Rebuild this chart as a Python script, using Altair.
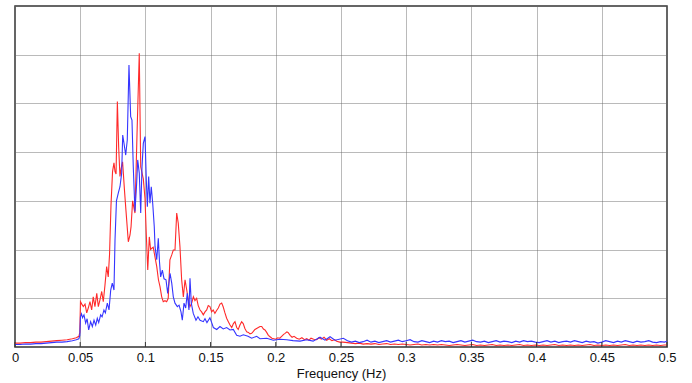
import altair as alt
import pandas as pd

# ---------------- data ----------------
x_ticks = [0, 0.05, 0.1, 0.15, 0.2, 0.25, 0.3, 0.35, 0.4, 0.45, 0.5]
y_ticks = [0, 1, 2, 3, 4, 5, 6, 7]

red_freq = [
    0.000, 0.004, 0.008, 0.012, 0.016, 0.020, 0.024, 0.028, 0.032, 0.036,
    0.040, 0.044, 0.047, 0.0490, 0.0497, 0.0502, 0.0512, 0.0524, 0.0537, 0.0550,
    0.0562, 0.0575, 0.0588, 0.0600, 0.0613, 0.0627, 0.0639, 0.0652, 0.0665, 0.0677,
    0.0690, 0.0703, 0.0715, 0.0725, 0.0736, 0.0748, 0.0759, 0.0767, 0.0775, 0.0785,
    0.0795, 0.0805, 0.0813, 0.0825, 0.0840, 0.0851, 0.0869, 0.0882, 0.0890, 0.0902,
    0.0920, 0.0936, 0.0953, 0.0964, 0.0972, 0.0984, 0.0997, 0.1007, 0.1018, 0.1030,
    0.1040, 0.1050, 0.1060, 0.1068, 0.1087, 0.1100, 0.1112, 0.1125, 0.1137, 0.1150,
    0.1163, 0.1175, 0.1188, 0.1202, 0.1214, 0.1227, 0.1240, 0.1252, 0.1265, 0.1278,
    0.1291, 0.1304, 0.1317, 0.1329, 0.1342, 0.1355, 0.1368, 0.1380, 0.1393, 0.1405,
    0.1419, 0.1431, 0.1444, 0.1457, 0.1470, 0.1482, 0.1495, 0.1508, 0.1520, 0.1533,
    0.1546, 0.1559, 0.1572, 0.1585, 0.1597, 0.1610, 0.1623, 0.1636, 0.1649, 0.1662,
    0.1675, 0.1687, 0.1700, 0.1712, 0.1725, 0.1738, 0.1750, 0.1763, 0.1777, 0.1790,
    0.1802, 0.1815, 0.1828, 0.1840, 0.1853, 0.1866, 0.1879, 0.1892, 0.1905, 0.1917,
    0.1930, 0.1943, 0.1956, 0.1970, 0.1985, 0.2000, 0.2015, 0.2030, 0.2045, 0.2060,
    0.2071, 0.2085, 0.2094, 0.2110, 0.2125, 0.2140, 0.2160, 0.2180, 0.2200, 0.2220,
    0.2237, 0.2255, 0.2270, 0.2290, 0.2314, 0.2330, 0.2350, 0.2370, 0.2390, 0.2410,
    0.2430, 0.2450, 0.2467, 0.2490, 0.2515,
]
red_val = [
    0.08, 0.08, 0.09, 0.09, 0.10, 0.10, 0.11, 0.12, 0.13, 0.14,
    0.15, 0.17, 0.19, 0.22, 0.30, 0.93, 0.88, 0.83, 0.88, 0.70,
    0.80, 0.93, 0.76, 1.03, 0.83, 1.10, 0.83, 0.97, 1.14, 0.93,
    1.27, 1.65, 1.44, 1.90, 2.90, 3.60, 3.78, 3.60, 3.55, 5.04,
    4.10, 3.50, 3.65, 3.80, 3.20, 2.80, 2.16, 2.30, 2.47, 3.00,
    2.75, 4.40, 6.03, 3.70, 3.60, 3.45, 3.05, 2.30, 1.58, 2.26,
    2.00, 2.03, 2.05, 1.93, 1.65, 1.38, 1.24, 1.03, 0.93, 0.95,
    0.93, 1.00, 1.79, 1.89, 1.99, 1.99, 2.75, 2.54, 2.06, 1.38,
    1.03, 1.38, 1.17, 0.97, 0.83, 0.90, 1.03, 0.95, 1.00, 0.85,
    0.76, 0.72, 0.66, 0.72, 0.76, 0.85, 0.83, 0.72, 0.76, 0.69,
    0.75, 0.80, 0.88, 0.90, 0.82, 0.70, 0.59, 0.52, 0.45, 0.40,
    0.48, 0.52, 0.40, 0.36, 0.45, 0.52, 0.48, 0.38, 0.31, 0.30,
    0.27, 0.28, 0.32, 0.36, 0.38, 0.40, 0.42, 0.42, 0.37, 0.35,
    0.30, 0.24, 0.21, 0.18, 0.17, 0.16, 0.19, 0.18, 0.22, 0.26,
    0.28, 0.31, 0.30, 0.24, 0.20, 0.22, 0.18, 0.16, 0.19, 0.15,
    0.17, 0.14, 0.18, 0.16, 0.15, 0.19, 0.16, 0.20, 0.14, 0.17,
    0.13, 0.15, 0.12, 0.10, 0.10,
]

blue_freq = [
    0.000, 0.004, 0.008, 0.012, 0.016, 0.020, 0.024, 0.028, 0.032, 0.036,
    0.040, 0.044, 0.047, 0.0490, 0.0497, 0.0502, 0.0510, 0.0518, 0.0529, 0.0542,
    0.0553, 0.0565, 0.0580, 0.0593, 0.0606, 0.0619, 0.0631, 0.0642, 0.0657, 0.0668,
    0.0682, 0.0693, 0.0708, 0.0721, 0.0734, 0.0746, 0.0759, 0.0767, 0.0778, 0.0792,
    0.0805, 0.0818, 0.0826, 0.0836, 0.0849, 0.0861, 0.0874, 0.0887, 0.0897, 0.0907,
    0.0920, 0.0933, 0.0941, 0.0953, 0.0964, 0.0974, 0.0984, 0.0997, 0.1007, 0.1015,
    0.1025, 0.1035, 0.1045, 0.1056, 0.1068, 0.1074, 0.1087, 0.1099, 0.1108, 0.1117,
    0.1130, 0.1143, 0.1158, 0.1171, 0.1189, 0.1202, 0.1214, 0.1227, 0.1245, 0.1258,
    0.1273, 0.1283, 0.1296, 0.1309, 0.1321, 0.1334, 0.1342, 0.1352, 0.1367, 0.1388,
    0.1403, 0.1419, 0.1444, 0.1457, 0.1472, 0.1495, 0.1511, 0.1521, 0.1547, 0.1572,
    0.1597, 0.1623, 0.1649, 0.1674, 0.1700, 0.1725, 0.1751, 0.1787, 0.1815, 0.1853,
    0.1879, 0.1930, 0.1981, 0.2032, 0.2084, 0.2132, 0.2186, 0.2237, 0.2286, 0.2339,
    0.2377, 0.2416, 0.2454, 0.2518,
]
blue_val = [
    0.05, 0.05, 0.06, 0.06, 0.07, 0.07, 0.08, 0.09, 0.10, 0.10,
    0.11, 0.13, 0.15, 0.17, 0.24, 0.62, 0.68, 0.60, 0.66, 0.49,
    0.58, 0.35, 0.52, 0.42, 0.55, 0.45, 0.59, 0.50, 0.66, 0.62,
    0.76, 0.70, 0.90, 0.76, 1.17, 1.31, 1.17, 2.20, 3.00, 3.16,
    3.29, 3.57, 4.35, 4.18, 3.94, 4.25, 5.79, 4.73, 4.66, 3.70,
    2.78, 3.36, 3.84, 3.57, 2.75, 3.70, 4.18, 4.32, 3.43, 2.88,
    3.50, 2.95, 3.29, 2.95, 2.47, 2.06, 1.79, 2.23, 1.75, 1.44,
    1.58, 1.40, 1.38, 1.10, 1.51, 1.31, 1.03, 0.90, 0.83, 0.86,
    0.72, 0.55, 0.90, 0.80, 1.10, 0.76, 1.41, 0.90, 0.69, 0.55,
    0.62, 0.55, 0.52, 0.58, 0.50, 0.60, 0.48, 0.40, 0.36, 0.42,
    0.37, 0.40, 0.35, 0.36, 0.24, 0.22, 0.25, 0.22, 0.18, 0.22,
    0.17, 0.18, 0.14, 0.16, 0.15, 0.13, 0.12, 0.15, 0.12, 0.20,
    0.14, 0.21, 0.14, 0.18,
]

tail_freq = [
    0.255, 0.258, 0.261, 0.264, 0.267, 0.270, 0.273, 0.276, 0.279, 0.282,
    0.285, 0.288, 0.291, 0.294, 0.297, 0.300, 0.303, 0.306, 0.309, 0.312,
    0.315, 0.318, 0.321, 0.324, 0.327, 0.330, 0.333, 0.336, 0.339, 0.342,
    0.345, 0.348, 0.351, 0.354, 0.357, 0.360, 0.363, 0.366, 0.369, 0.372,
    0.375, 0.378, 0.381, 0.384, 0.387, 0.390, 0.393, 0.396, 0.399, 0.402,
    0.405, 0.408, 0.411, 0.414, 0.417, 0.420, 0.423, 0.426, 0.429, 0.432,
    0.435, 0.438, 0.441, 0.444, 0.447, 0.450, 0.453, 0.456, 0.459, 0.462,
    0.465, 0.468, 0.471, 0.474, 0.477, 0.480, 0.483, 0.486, 0.489, 0.492,
    0.495, 0.498, 0.500,
]
red_tail = [
    0.09, 0.08, 0.07, 0.08, 0.06, 0.07, 0.06, 0.07, 0.05, 0.06,
    0.07, 0.05, 0.06, 0.05, 0.06, 0.05, 0.04, 0.05, 0.06, 0.04,
    0.05, 0.04, 0.05, 0.04, 0.05, 0.04, 0.03, 0.04, 0.05, 0.04,
    0.03, 0.04, 0.05, 0.03, 0.04, 0.03, 0.04, 0.05, 0.03, 0.04,
    0.03, 0.04, 0.03, 0.04, 0.05, 0.03, 0.04, 0.03, 0.04, 0.03,
    0.04, 0.03, 0.04, 0.05, 0.03, 0.04, 0.03, 0.04, 0.03, 0.04,
    0.03, 0.04, 0.05, 0.03, 0.04, 0.03, 0.04, 0.03, 0.04, 0.03,
    0.04, 0.05, 0.03, 0.04, 0.03, 0.04, 0.03, 0.04, 0.03, 0.04,
    0.03, 0.04, 0.04,
]
blue_tail = [
    0.13, 0.10, 0.12, 0.09, 0.11, 0.14, 0.10, 0.12, 0.09, 0.11,
    0.13, 0.10, 0.12, 0.14, 0.11, 0.13, 0.15, 0.11, 0.10, 0.13,
    0.11, 0.09, 0.12, 0.10, 0.13, 0.11, 0.12, 0.09, 0.11, 0.13,
    0.10, 0.12, 0.14, 0.11, 0.10, 0.12, 0.09, 0.11, 0.13, 0.10,
    0.12, 0.11, 0.09, 0.12, 0.10, 0.13, 0.11, 0.12, 0.10, 0.09,
    0.11, 0.13, 0.10, 0.12, 0.09, 0.11, 0.12, 0.10, 0.13, 0.11,
    0.09, 0.12, 0.10, 0.11, 0.08, 0.10, 0.13, 0.11, 0.09, 0.12,
    0.10, 0.13, 0.11, 0.09, 0.12, 0.10, 0.11, 0.13, 0.10, 0.09,
    0.11, 0.10, 0.12,
]

assert len(red_freq) == len(red_val), (len(red_freq), len(red_val))
assert len(blue_freq) == len(blue_val), (len(blue_freq), len(blue_val))
assert len(tail_freq) == len(red_tail) == len(blue_tail), (len(tail_freq), len(red_tail), len(blue_tail))

red_df = pd.DataFrame({"f": red_freq + tail_freq, "v": red_val + red_tail})
blue_df = pd.DataFrame({"f": blue_freq + tail_freq, "v": blue_val + blue_tail})
tick_df = pd.DataFrame({"t": x_ticks})

FONT = "Liberation Sans"

x_scale = alt.Scale(domain=[0, 0.5], nice=False, zero=False)
y_scale = alt.Scale(domain=[0, 7], nice=False, zero=False)

x_axis = alt.Axis(
    values=x_ticks, format="~g", title="Frequency (Hz)", grid=True,
    gridDash=[1, 1], gridColor="#666666", gridOpacity=0.9, gridWidth=1,
    ticks=False, domain=False, labelPadding=4, labelFont=FONT, labelFontSize=13,
    labelColor="#111111", titleFont=FONT, titleFontSize=13, titleFontWeight="normal",
    titleColor="#111111", titlePadding=3, labelFlush=False,
)
y_axis = alt.Axis(
    values=y_ticks, labels=False, ticks=False, domain=False, title=None, grid=True,
    gridDash=[1, 1], gridColor="#666666", gridOpacity=0.9, gridWidth=1,
)

red = alt.Chart(red_df).mark_line(color="#ff2a2a", strokeWidth=1.1, clip=True).encode(
    x=alt.X("f:Q", scale=x_scale, axis=x_axis),
    y=alt.Y("v:Q", scale=y_scale, axis=y_axis),
)
blue = alt.Chart(blue_df).mark_line(color="#3535ff", strokeWidth=1.1, clip=True).encode(
    x=alt.X("f:Q", scale=x_scale),
    y=alt.Y("v:Q", scale=y_scale),
)
ticks = alt.Chart(tick_df).mark_rule(color="#333333", strokeWidth=1).encode(
    x=alt.X("t:Q", scale=x_scale),
    y=alt.value(341),
    y2=alt.value(336),
)

chart = alt.layer(red, blue, ticks).properties(
    width=652,
    height=341,
    padding={"left": 15, "top": 6, "right": 25, "bottom": 36},
    autosize=alt.AutoSizeParams(type="none"),
    background="white",
).configure_view(stroke="#333333", strokeWidth=1.5)

chart.save("out.html", embed_options={"renderer": "svg", "actions": False})
